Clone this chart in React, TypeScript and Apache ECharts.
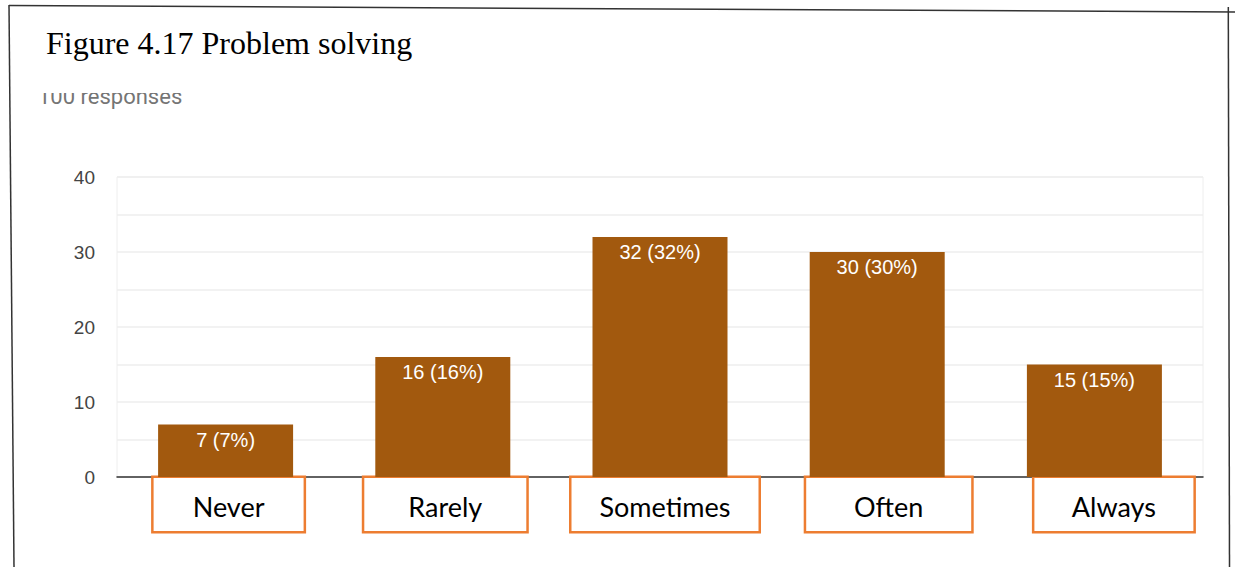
import React, { useEffect, useRef } from "react";
import * as echarts from "echarts";

const categories = ["Never", "Rarely", "Sometimes", "Often", "Always"];
const counts = [7, 16, 32, 30, 15];
const percents = [7, 16, 32, 30, 15];
const titleText = "Figure 4.17 Problem solving";
const subtitleText = "100 responses";

// annotation boxes drawn around the category labels
const boxWidths = [150, 162, 187, 165, 159];
const boxShifts = [6, 5, 10, 23, 39];

export default function App() {
  const ref = useRef<HTMLDivElement>(null);
  useEffect(() => {
    if (!ref.current) return;
    const chart = echarts.init(ref.current, undefined, { renderer: "svg" });
    const rich: Record<string, any> = {};
    categories.forEach((_, i) => {
      rich[`s${i}`] = { width: boxShifts[i], fontSize: 10 };
      rich[`b${i}`] = {
        width: boxWidths[i],
        height: 50,
        padding: [3, 0, 0, 0],
        align: "center",
        verticalAlign: "middle",
        fontSize: 27,
        fontFamily: "Lato",
        color: "#000",
        backgroundColor: "#fff",
        borderColor: "#ED7D31",
        borderWidth: 2.5,
      };
    });
    chart.setOption({
      animation: false,
      backgroundColor: "#fff",
      grid: {
        left: 117,
        right: 32,
        top: 177,
        bottom: 90,
        show: true,
        borderColor: "#EEEEEE",
        borderWidth: 1,
      },
      xAxis: {
        type: "category",
        data: categories,
        axisTick: { show: false },
        axisLine: { lineStyle: { color: "#333", width: 1.5 } },
        axisLabel: {
          interval: 0,
          margin: 1,
          formatter: (v: string, i: number) => `{s${i}| }{b${i}|${v}}`,
          rich,
        },
      },
      yAxis: {
        type: "value",
        min: 0,
        max: 40,
        interval: 5,
        axisLine: { show: false },
        axisTick: { show: false },
        splitLine: { lineStyle: { color: "#EEEEEE", width: 1.5 } },
        axisLabel: {
          margin: 22,
          fontSize: 19,
          fontFamily: "Liberation Sans",
          color: "#444",
          formatter: (v: number) => (v % 10 === 0 ? String(v) : ""),
        },
      },
      series: [
        {
          type: "bar",
          data: counts,
          barWidth: 135,
          itemStyle: { color: "#A2590E" },
          label: {
            show: true,
            position: "insideTop",
            distance: 5,
            fontSize: 20,
            fontFamily: "Liberation Sans",
            color: "#fff",
            formatter: (p: any) => `${counts[p.dataIndex]} (${percents[p.dataIndex]}%)`,
          },
        },
      ],
      graphic: [
        {
          type: "text",
          left: 46,
          top: 27,
          style: {
            text: titleText,
            font: "32px 'Liberation Serif'",
            fill: "#000",
          },
        },
        {
          type: "text",
          left: 38,
          top: 85,
          style: {
            text: subtitleText,
            font: "22px Roboto",
            fill: "#757575",
          },
        },
        // the source image is cropped just through the top of this line
        { type: "rect", shape: { x: 30, y: 78, width: 180, height: 15 }, style: { fill: "#fff" } },
        { type: "line", shape: { x1: 9, y1: 5.5, x2: 1235, y2: 12 }, style: { stroke: "#333", lineWidth: 1.5 } },
        { type: "line", shape: { x1: 9, y1: 5, x2: 14, y2: 567 }, style: { stroke: "#333", lineWidth: 1.5 } },
        { type: "line", shape: { x1: 1228.3, y1: 7, x2: 1229.5, y2: 567 }, style: { stroke: "#333", lineWidth: 1.5 } },
      ],
    });
    return () => chart.dispose();
  }, []);
  return (
    <div
      ref={ref}
      style={{ position: "fixed", left: 0, top: 0, width: 1235, height: 567 }}
    />
  );
}
